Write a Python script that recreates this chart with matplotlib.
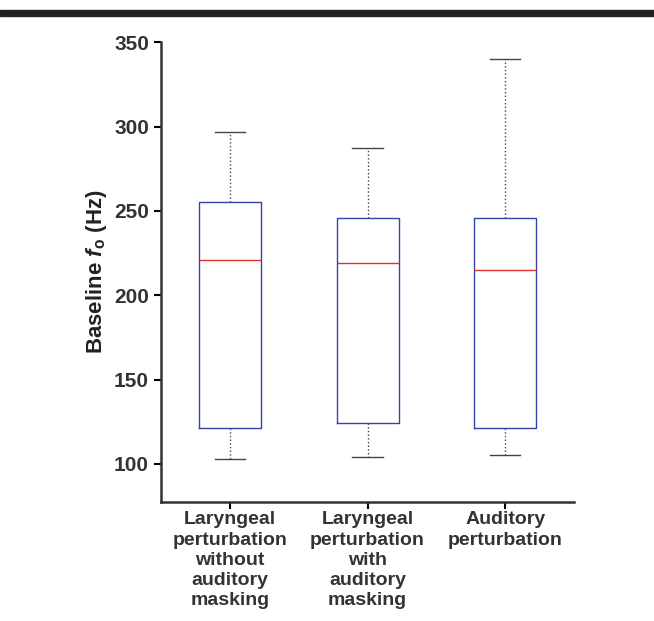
import matplotlib
matplotlib.use('Agg')
import matplotlib.pyplot as plt
from matplotlib.patches import Rectangle

plt.rcParams['font.family'] = ['Liberation Sans', 'DejaVu Sans']
plt.rcParams['mathtext.fontset'] = 'custom'
plt.rcParams['mathtext.bfit'] = 'Liberation Sans:bold:italic'
plt.rcParams['mathtext.bf'] = 'Liberation Sans:bold'

labels = ['Laryngeal\nperturbation\nwithout\nauditory\nmasking',
          'Laryngeal\nperturbation\nwith\nauditory\nmasking',
          'Auditory\nperturbation']
medians = [221, 219, 215]
q1 = [121, 124, 121]
q3 = [255, 246, 246]
whislo = [103, 104, 105]
whishi = [297, 287, 340]

stats = []
for i in range(3):
    stats.append(dict(med=medians[i], q1=q1[i], q3=q3[i],
                      whislo=whislo[i], whishi=whishi[i], fliers=[]))

fig = plt.figure(figsize=(6.54, 6.21), dpi=100)
fig.patches.append(Rectangle((0, 0.974), 1, 0.01, transform=fig.transFigure,
                             color='#222222', zorder=5))
ax = fig.add_axes([0.246, 0.192, 0.632, 0.74])
ax.bxp(stats, positions=[1, 2, 3], widths=0.45, showfliers=False,
       boxprops=dict(color='#3344aa', linewidth=1),
       medianprops=dict(color='#e03030', linewidth=1),
       whiskerprops=dict(color='#444444', linestyle=':', linewidth=1),
       capprops=dict(color='#444444', linewidth=1), capwidths=0.22)

ax.set_xlim(0.5, 3.5)
ax.set_ylim(77.5, 350)
ax.set_yticks([100, 150, 200, 250, 300, 350])
ax.set_xticks([1, 2, 3])
ax.set_xticklabels(labels, fontsize=14, fontweight='bold', color='#333333',
                   linespacing=1.25)
ax.tick_params(axis='y', labelsize=15, labelcolor='#333333', width=1.5, length=5)
for lab in ax.get_yticklabels():
    lab.set_fontweight('bold')
ax.tick_params(axis='x', width=1.5, length=5, pad=2)
ax.set_ylabel(r'Baseline $\mathbfit{f}_{\mathbf{o}}$ (Hz)', fontsize=16,
              fontweight='bold', color='#222222')
for s in ['top', 'right']:
    ax.spines[s].set_visible(False)
for s in ['left', 'bottom']:
    ax.spines[s].set_linewidth(1.8)
    ax.spines[s].set_color('#333333')

plt.savefig('out.png', dpi=100)
